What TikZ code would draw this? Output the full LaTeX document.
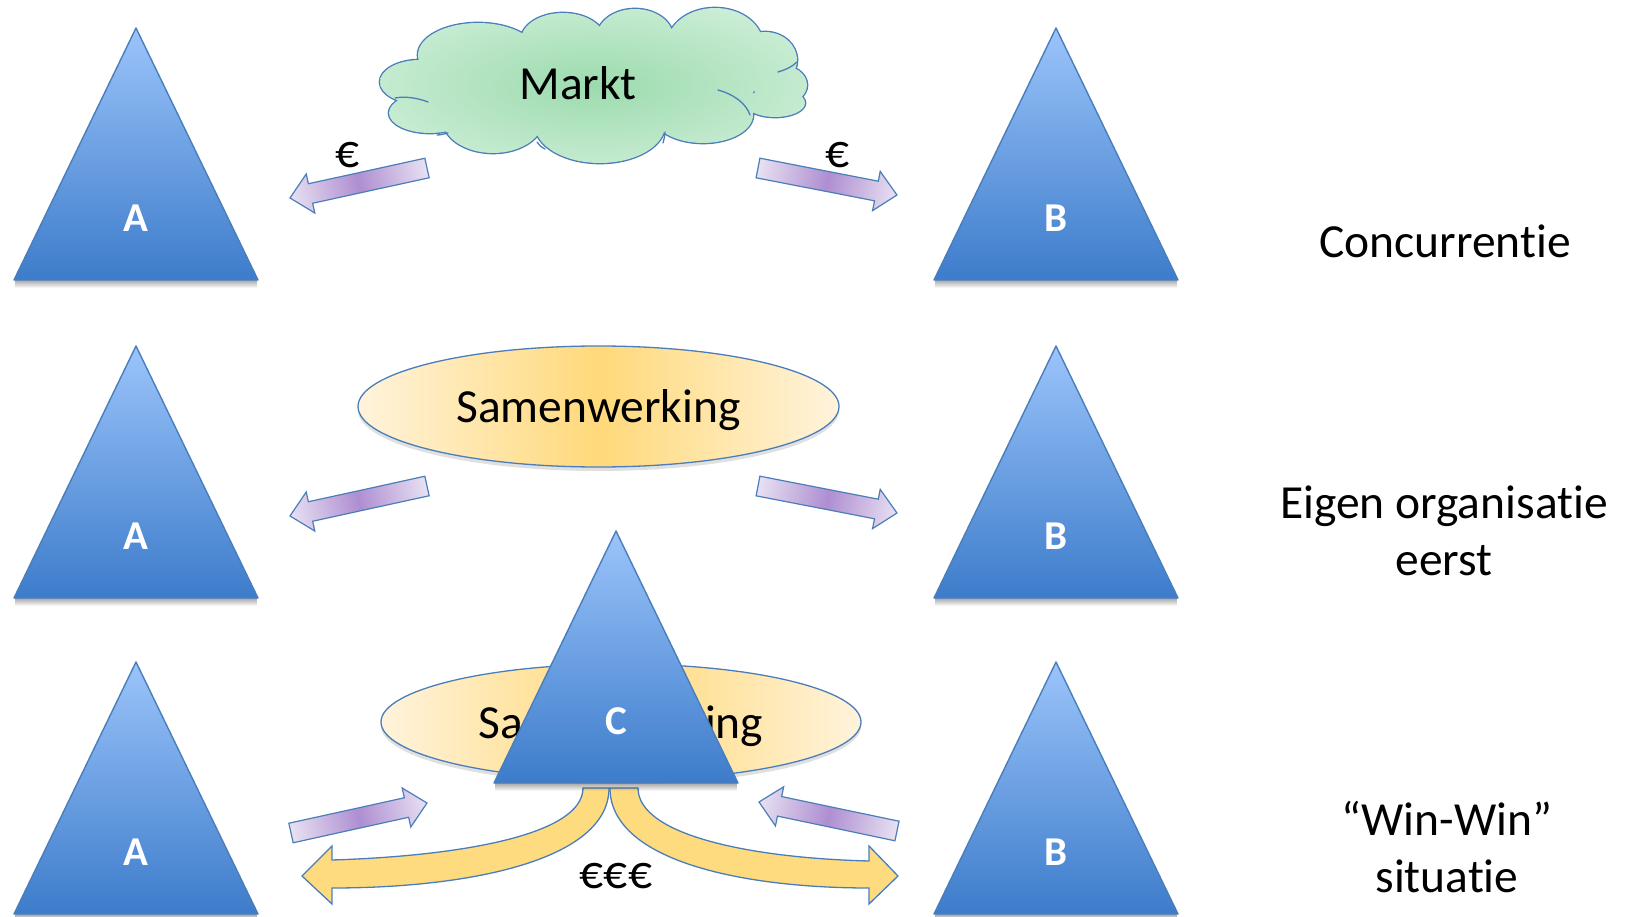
\documentclass[tikz,border=0pt]{standalone}
\usepackage{fontspec}
\setmainfont{Carlito}[Ligatures=NoCommon]
\usetikzlibrary{calc,shapes.geometric,shadows,fadings}

\definecolor{edgeblue}{HTML}{4A7EBB}
\definecolor{tritop}{HTML}{9BC4FA}
\definecolor{tribot}{HTML}{3D7CCB}
\definecolor{lilac}{HTML}{E8E1F2}
\definecolor{violet}{HTML}{AE8ED1}
\definecolor{sandlight}{HTML}{FFF3DC}
\definecolor{sandmid}{HTML}{FFD97A}
\definecolor{gold}{HTML}{FFDB80}
\definecolor{mintin}{HTML}{9CDBAE}
\definecolor{mintout}{HTML}{DAF3E2}

\pgfdeclareradialshading{cloudglow}{\pgfpoint{0bp}{0bp}}{color(0bp)=(mintin); color(38bp)=(mintout); color(50bp)=(mintout)}

\tikzset{
  tri/.style={draw=edgeblue, line width=1.4pt, top color=tritop, bottom color=tribot, line join=round},
  trilabel/.style={text=white, inner sep=0pt, font=\fontsize{41}{41}\selectfont\bfseries},
  bigtext/.style={inner sep=0pt, font=\fontsize{47.5}{57}\selectfont, align=center},
  purplearrow/.style={draw=edgeblue, line width=1.2pt, left color=lilac, right color=lilac, middle color=violet, line join=miter},
  goldarrow/.style={draw=edgeblue, line width=1.3pt, fill=gold, line join=miter},
  plan/.style={ellipse, draw=edgeblue, line width=1.3pt, inner sep=0pt, text depth=0pt,
    left color=sandlight, right color=sandlight, middle color=sandmid,
    drop shadow={shadow xshift=0pt, shadow yshift=-4pt, fill=black, opacity=.12},
    font=\fontsize{47.5}{57}\selectfont},
  puffline/.style={draw=edgeblue, line width=1.3pt, line cap=round}
}

% organisation triangle: name, centre x, apex y, letter
\newcommand\orgtri[4]{%
  \fill[black, opacity=.35, path fading=south] (#2-121,#3+252) rectangle (#2+121,#3+260);
  \draw[tri] (#2,#3) -- (#2+122,#3+252) -- (#2-122,#3+252) -- cycle;
  \node[trilabel] (#1) at (#2,#3+190) {#4};}

% straight block arrow from one named coordinate to another
\newcommand\flowarrow[2]{%
  \pgfpointdiff{\pgfpointanchor{#1}{center}}{\pgfpointanchor{#2}{center}}%
  \pgfgetlastxy{\flowdx}{\flowdy}%
  \pgfmathsetmacro\flowang{atan2(\flowdy,\flowdx)}%
  \pgfmathsetmacro\flowlen{veclen(\flowdx,\flowdy)}%
  \begin{scope}[transform canvas={shift={(#1)},rotate=\flowang}]
    \draw[purplearrow] (0pt,-10pt) -- ({\flowlen pt-21pt},-10pt) -- ({\flowlen pt-21pt},-20pt)
      -- ({\flowlen pt},0pt) -- ({\flowlen pt-21pt},20pt) -- ({\flowlen pt-21pt},10pt) -- (0pt,10pt) -- cycle;
  \end{scope}}

% outline of the market cloud as a union of puffs
\def\cloudpuffs{%
  (420,82) ellipse [x radius=40, y radius=22]
  (430,113) ellipse [x radius=41, y radius=20]
  (478,55) ellipse [x radius=60, y radius=32]
  (563,40) ellipse [x radius=42, y radius=27]
  (635,37) ellipse [x radius=38, y radius=28]
  (715,45) ellipse [x radius=48, y radius=37]
  (765,60) ellipse [x radius=32, y radius=28]
  (780,85) ellipse [x radius=27, y radius=20]
  (775,103) ellipse [x radius=30, y radius=14]
  (703,115) ellipse [x radius=50, y radius=28]
  (600,125) ellipse [x radius=65, y radius=38]
  (493,120) ellipse [x radius=50, y radius=33]
  (595,85) ellipse [x radius=160, y radius=48]}

\begin{document}
\begin{tikzpicture}[x=1pt,y=-1pt]
\useasboundingbox (0,0) rectangle (1626,917);

% ---------- row 1: competition ----------
\orgtri{A1}{136}{28}{A}
\orgtri{B1}{1056}{28}{B}

% market cloud: rim first, shaded body on top, then the inner puff lines
\draw[edgeblue, line width=2.7pt] \cloudpuffs;
\shade[shading=cloudglow] \cloudpuffs;
\draw[puffline] (395,98) .. controls (405,96) and (418,98) .. (428,102);
\draw[puffline] (718,90) .. controls (733,94) and (746,103) .. (750,115);
\draw[puffline] (778,72) .. controls (785,70) and (792,67) .. (797,62);
\draw[puffline] (448,133) .. controls (444,134) and (441,135) .. (437,135);
\draw[puffline] (537,142) .. controls (539,145) and (541,147) .. (545,149);
\draw[puffline] (665,132) .. controls (665,136) and (664,139) .. (663,143);
\node[bigtext] (marktlabel) at (578,83) {Markt};

\coordinate (m1l) at (427,168);
\coordinate (a1in) at (290,198);
\coordinate (m1r) at (758,168);
\coordinate (b1in) at (897,195);
\flowarrow{m1l}{a1in}
\flowarrow{m1r}{b1in}
\node[bigtext] (eur1) at (348,155) {€};
\node[bigtext] (eur2) at (838,155) {€};
\node[bigtext] (lab1) at (1445,241) {Concurrentie};

% ---------- row 2: own organisation first ----------
\orgtri{A2}{136}{346}{A}
\orgtri{B2}{1056}{346}{B}
\node[plan, minimum width=481, minimum height=121] (sw2) at (598.5,406.5) {Samenwerking};

\coordinate (m2l) at (427,486);
\coordinate (a2in) at (290,516);
\coordinate (m2r) at (758,486);
\coordinate (b2in) at (897,513);
\flowarrow{m2l}{a2in}
\flowarrow{m2r}{b2in}
\node[bigtext] (lab2) at (1444,531) {Eigen organisatie\\eerst};

% ---------- row 3: win-win ----------
\node[plan, minimum width=480, minimum height=116] (sw3) at (621,722) {Samenwerking};

% returns flowing from C to both partners
\coordinate (cfoot) at (610,788);
\begin{scope}[shift={(cfoot)}]
  \draw[goldarrow] (-27,0) .. controls (-27,47) and (-150,68) .. (-278,72)
    -- (-278,58) -- (-308,88) -- (-278,116) -- (-278,100)
    .. controls (-140,100) and (-1,72) .. (-1,0) -- cycle;
  \draw[goldarrow] (28,0) .. controls (28,47) and (140,70) .. (259,73)
    -- (259,58) -- (288,88) -- (259,116) -- (259,100)
    .. controls (130,100) and (0,72) .. (0,0) -- cycle;
\end{scope}
\node[bigtext] (eur3) at (616,876) {€€€};

\orgtri{C3}{616}{531}{C}

\coordinate (a3out) at (291,833);
\coordinate (c3l) at (427,803);
\coordinate (b3out) at (897,831);
\coordinate (c3r) at (759,802);
\flowarrow{a3out}{c3l}
\flowarrow{b3out}{c3r}

\orgtri{A3}{136}{662}{A}
\orgtri{B3}{1056}{662}{B}
\node[bigtext] (lab3) at (1447,847) {“Win-Win”\\situatie};
\end{tikzpicture}
\end{document}
